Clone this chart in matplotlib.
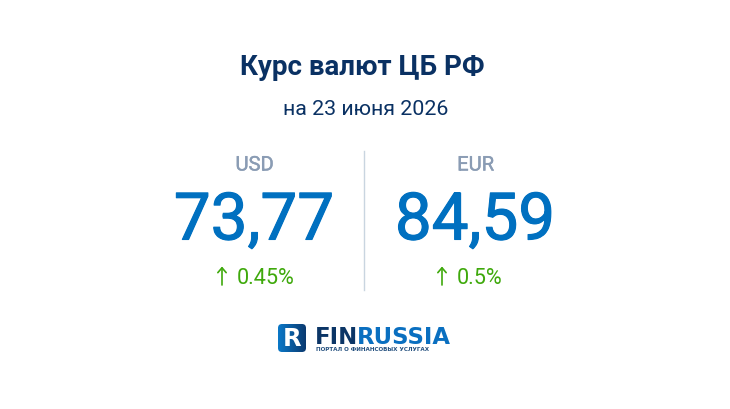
import matplotlib
matplotlib.use("Agg")
import matplotlib.pyplot as plt
import matplotlib.patheffects as pe
import numpy as np
from matplotlib.colors import LinearSegmentedColormap
from matplotlib.patches import FancyBboxPatch

plt.rcParams["font.family"] = ["Roboto", "DejaVu Sans"]

TITLE = "Курс валют ЦБ РФ"
SUBTITLE = "на 23 июня 2026"
currencies = ["USD", "EUR"]
rates = ["73,77", "84,59"]
changes = ["0.45%", "0.5%"]
centers = [254, 475]
arrow_x = [222, 442]
change_x = [237, 457]

NAVY = "#0a3163"
BLUE = "#0070c0"
GREEN = "#3fa90c"
GREY = "#8a9cb4"

fig = plt.figure(figsize=(7.3, 4.1), dpi=100, facecolor="white")
ax = fig.add_axes([0, 0, 1, 1])
ax.set_xlim(0, 730)
ax.set_ylim(410, 0)
ax.axis("off")

ax.text(362, 67.5, TITLE, fontsize=20, fontweight="bold", color=NAVY, ha="center", va="center")
ax.text(365.5, 109.5, SUBTITLE, fontsize=15.4, color=NAVY, ha="center", va="center")

# divider between the two rates
ax.plot([364, 364], [152, 291], color="#c9d5e0", lw=1)

thick = [pe.withStroke(linewidth=0.8, foreground=BLUE)]
for cur, rate, chg, cx, ax_x, cx2 in zip(currencies, rates, changes, centers, arrow_x, change_x):
    ax.text(cx + 0.5, 166, cur, fontsize=14.5, color=GREY, ha="center", va="center",
            path_effects=[pe.withStroke(linewidth=0.3, foreground=GREY)])
    ax.text(cx, 240.5, rate, fontsize=47.2, color=BLUE, ha="center", va="baseline", path_effects=thick)
    ax.annotate("", xy=(ax_x, 267.5), xytext=(ax_x, 286),
                arrowprops=dict(arrowstyle="->,head_length=0.35,head_width=0.3", color=GREEN, lw=1.2,
                                shrinkA=0, shrinkB=0))
    ax.text(cx2, 279, chg, fontsize=15.6, color=GREEN, ha="left", va="center")

# logo: icon with gradient, then the wordmark
icon = FancyBboxPatch((278, 325), 28, 28, boxstyle="round,pad=0,rounding_size=4",
                      fc="none", ec="none")
ax.add_patch(icon)
grad = np.linspace(0, 1, 64).reshape(1, -1)
im = ax.imshow(grad, extent=(278, 306, 353, 325), aspect="auto", zorder=2,
               cmap=LinearSegmentedColormap.from_list("g", ["#0a78c8", "#0b3a70"]))
im.set_clip_path(icon)
ax.set_xlim(0, 730)
ax.set_ylim(410, 0)
ax.text(292.5, 339, "R", fontsize=17.5, fontweight="bold", color="white", ha="center", va="center", zorder=3,
        family="DejaVu Sans")

ax.text(314.5, 344, "FIN", fontsize=16.4, fontweight="bold", color="#0b3566", ha="left", va="baseline",
        family="DejaVu Sans")
ax.text(357, 344, "RUSSIA", fontsize=16.4, fontweight="bold", color="#0a6fc0", ha="left", va="baseline",
        family="DejaVu Sans")
ax.text(316, 350, "ПОРТАЛ О ФИНАНСОВЫХ УСЛУГАХ", fontsize=4.1, fontweight="bold", color="#24507f",
        ha="left", va="center", family="DejaVu Sans")

fig.savefig("out.png", dpi=100, facecolor="white")
